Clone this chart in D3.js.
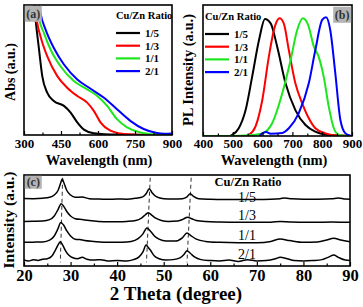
<!DOCTYPE html>
<html>
<head>
<meta charset="utf-8">
<script src="https://cdn.jsdelivr.net/npm/d3@7"></script>
<style>
  body { margin: 0; background: #fff; }
  svg { display: block; }
  svg text { font-family: "Liberation Serif", "Times New Roman", serif; }
</style>
</head>
<body>
<div id="chart"></div>
<script>
// ratio legend labels and colours
const ratios = ["1/5", "1/3", "1/1", "2/1"];
const colors = ["#000000", "#ff0000", "#1ee61e", "#0000ff"];

// (a) absorption, [wavelength nm, abs a.u.]
const absBlack = [[336,1.1],[347,0.886],[361,0.656],[374,0.453],[394,0.326],[421,0.262],[462,0.224],[489,0.173],[516,0.097],[543,0.041],[583,0.013],[677,0.003],[900,0.0]];
const absRed = [[340,1.1],[354,0.86],[367,0.758],[394,0.606],[435,0.453],[475,0.364],[516,0.3],[556,0.249],[583,0.186],[610,0.097],[650,0.033],[704,0.008],[812,0.0],[900,0.0]];
const absGreen = [[348,1.1],[361,0.898],[381,0.784],[408,0.656],[448,0.529],[502,0.415],[556,0.351],[597,0.3],[637,0.224],[677,0.122],[718,0.059],[772,0.02],[853,0.003],[900,0.006]];
const absBlue = [[354,1.1],[367,0.936],[388,0.809],[421,0.669],[462,0.542],[516,0.427],[570,0.356],[623,0.288],[677,0.198],[731,0.109],[785,0.046],[839,0.015],[870,0.01],[900,0.012]];

// (b) photoluminescence, [wavelength nm, PL a.u.]
const plBlack = [[400,0],[490,0],[498,0.008],[520,0.059],[543,0.198],[565,0.453],[588,0.733],[608,0.893],[627,0.86],[649,0.682],[677,0.402],[710,0.198],[744,0.084],[777,0.033],[822,0.008],[900,0]];
const plRed = [[400,0],[545,0],[554,0.008],[576,0.071],[599,0.275],[621,0.606],[641,0.835],[657,0.898],[671,0.86],[688,0.656],[710,0.402],[733,0.249],[755,0.135],[777,0.059],[811,0.02],[855,0.003],[900,0]];
const plGreen = [[400,0],[498,0],[554,0.005],[599,0.02],[632,0.097],[666,0.326],[694,0.58],[716,0.809],[735,0.898],[753,0.847],[772,0.682],[788,0.606],[805,0.453],[822,0.224],[839,0.059],[855,0.01],[878,0],[900,0]];
const plBlue = [[590,0],[599,0.02],[612,0.031],[627,0.018],[666,0.023],[688,0.059],[721,0.173],[755,0.402],[777,0.656],[800,0.886],[813,0.906],[827,0.809],[844,0.478],[861,0.122],[878,0.02],[894,0.003],[900,0]];

// (c) XRD, [2 theta deg, intensity offset a.u.]
const xrd15 = [[20,74.1],[22,74],[24,74.5],[25.5,75.5],[26.5,78],[27.3,83],[27.8,90],[28.2,95.5],[28.6,91],[29.2,83],[30,78],[31,75.5],[32.5,75.8],[34,74],[36,73.5],[38,73.3],[40,73.6],[42,73.4],[44,74.5],[45.5,76],[46.3,80],[46.9,85],[47.5,80.5],[48.5,76],[50,74],[52,73.5],[54,74],[55,76],[55.7,79.5],[56.4,76.5],[57.5,74],[60,73.3],[63,73],[66,73.2],[70,73],[73,73.3],[75,74],[76,74.8],[77.5,73.8],[80,73.3],[83,73.4],[86,73.8],[87.5,74.8],[89,73.5],[90,73.3]];
const xrd13 = [[20,49],[22,49.2],[24,49.5],[25.5,51],[26.5,55],[27.3,62],[28,68.5],[28.6,65],[29.3,59],[30,55],[31,52],[32.5,51],[34,50],[36,49],[38,48.5],[40,48.6],[42,49],[44,50],[45.3,53],[46.1,56.5],[46.7,58.5],[47.4,56],[48.3,52.5],[49.5,50],[51,49],[53,49.5],[54.2,51.5],[55.1,53.7],[56,52],[57,50],[59,48.8],[62,48.3],[66,48],[70,48.2],[73,48.2],[75,48.8],[77,48.4],[80,48],[83,48.1],[86,48.3],[88,48.2],[90,48]];
const xrd11 = [[20,26],[22,26.2],[24,26.5],[25.5,28.5],[26.5,33],[27.3,41],[27.9,47.8],[28.5,45],[29.2,38.5],[30,33],[31,29.5],[32,29],[33,28],[35,27],[38,26],[41,26.2],[43,27],[44.5,30],[45.5,35],[46.4,41.8],[47.2,38],[48,33],[49,29.5],[50.5,27.5],[52.5,27.5],[54,31],[55,36.2],[55.8,33.5],[57,29.5],[59,27],[62,26],[66,25.5],[70,25.6],[73,27],[75,29.6],[77,28],[80,26],[83,26.5],[85,28.5],[86.5,30.4],[88,28.5],[90,26.5]];
const xrd21 = [[20,6.5],[21,5.5],[22,7],[23,6],[24,7.5],[25,8],[26,11],[26.8,18],[27.4,24],[27.8,26.7],[28.3,23],[28.9,17],[29.6,12],[30.5,9],[31.5,8],[32.5,9.5],[33.5,7.5],[35,6.5],[36.5,7],[38,5.5],[40,6],[42,5.5],[43.5,7],[44.7,10],[45.6,16],[46.2,23],[46.6,21],[47.2,17],[48,11],[49,8],[50.5,6.5],[52,7],[53.5,9],[54.4,13],[55,16.7],[55.7,14],[56.6,10],[58,7],[60,6],[62,5.5],[64,6.5],[66,5],[68,7],[70,5.5],[72,6],[74,8],[75,9.5],[76.5,8],[78,6],[80,5.5],[82,6],[84,7],[85.5,10],[86.5,12],[87.5,9.5],[89,6.5],[90,6]];

// dashed guide lines, [top 2theta, bottom 2theta]
const guides = [[28.3, 27.8], [47.1, 46.3], [55.9, 55.0]];
const xrdLabelY = [75, 55, 33, 13];

const svg = d3.select("#chart").append("svg").attr("width", 363).attr("height", 307);
const serif = '"Liberation Serif", "Times New Roman", serif';

function frame(p, xTicks, xMinor, fs, pad) {
  const g = svg.append("g");
  const ax = d3.axisBottom(p.x).tickValues(xTicks).tickSize(-4).tickPadding(pad).tickFormat(d3.format("d"));
  g.append("g").attr("transform", `translate(0,${p.y.range()[0]})`).call(ax)
    .attr("font-family", serif)
    .call(s => s.select(".domain").remove())
    .call(s => s.selectAll("text").attr("font-size", fs).attr("font-weight", "bold").attr("fill", "#000")
      .style("font-family", serif))
    .call(s => s.selectAll("line").attr("stroke-width", 1.2));
  g.append("g").attr("transform", `translate(0,${p.y.range()[0]})`)
    .call(d3.axisBottom(p.x).tickValues(xMinor).tickSize(-2.5).tickFormat(""))
    .call(s => s.select(".domain").remove())
    .call(s => s.selectAll("line").attr("stroke-width", 1.2));
  const [x0, x1] = p.x.range(), [y1, y0] = p.y.range();
  g.append("rect").attr("x", x0).attr("y", y0).attr("width", x1 - x0).attr("height", y1 - y0)
    .attr("fill", "none").attr("stroke", "#000").attr("stroke-width", 1.6);
  return g;
}

function clip(id, p) {
  const [x0, x1] = p.x.range(), [y1, y0] = p.y.range();
  svg.append("clipPath").attr("id", id).append("rect")
    .attr("x", x0).attr("y", y0).attr("width", x1 - x0).attr("height", y1 - y0);
}

function tag(x, y, w, h, txt) {
  svg.append("rect").attr("x", x).attr("y", y).attr("width", w).attr("height", h).attr("fill", "#b4b4b4");
  svg.append("text").attr("x", x + w / 2).attr("y", y + h / 2 + 4).attr("text-anchor", "middle")
    .attr("font-size", 12).attr("font-weight", "bold").attr("fill", "#333").text(txt);
}

function legend(x, y, title) {
  svg.append("text").attr("x", x).attr("y", y).attr("font-size", 10.5).attr("font-weight", "bold").text(title);
  ratios.forEach((r, i) => {
    const yy = y + 14 + i * 12.7;
    svg.append("line").attr("x1", x).attr("x2", x + 24).attr("y1", yy).attr("y2", yy)
      .attr("stroke", colors[i]).attr("stroke-width", 2.2);
    svg.append("text").attr("x", x + 29).attr("y", yy + 4).attr("font-size", 11).attr("font-weight", "bold").text(r);
  });
}

function ylab(x, y, txt, fs) {
  svg.append("text").attr("transform", `translate(${x},${y}) rotate(-90)`).attr("text-anchor", "middle")
    .attr("font-size", fs).attr("font-weight", "bold").text(txt);
}

// ---- panel (a)
const pa = { x: d3.scaleLinear().domain([300, 900]).range([24, 172]), y: d3.scaleLinear().domain([0, 1]).range([135, 5]) };
clip("ca", pa);
const lineA = d3.line().x(d => pa.x(d[0])).y(d => pa.y(d[1])).curve(d3.curveMonotoneX);
[absBlack, absRed, absGreen, absBlue].forEach((s, i) => {
  svg.append("path").datum(s).attr("d", lineA).attr("fill", "none").attr("stroke", colors[i])
    .attr("stroke-width", 2).attr("clip-path", "url(#ca)");
});
frame(pa, [300, 450, 600, 750, 900], [375, 525, 675, 825], 13, 4);
tag(24.8, 5.8, 17, 16, "(a)");
legend(116, 19, "Cu/Zn Ratio");
ylab(15, 72, "Abs (a.u.)", 14);
svg.append("text").attr("x", 99).attr("y", 165).attr("text-anchor", "middle").attr("font-size", 14.5)
  .attr("font-weight", "bold").text("Wavelength (nm)");

// ---- panel (b)
const pb = { x: d3.scaleLinear().domain([400, 900]).range([203, 352]), y: d3.scaleLinear().domain([0, 1]).range([136, 5]) };
clip("cb", pb);
const lineB = d3.line().x(d => pb.x(d[0])).y(d => pb.y(d[1])).curve(d3.curveMonotoneX);
[plBlack, plRed, plGreen, plBlue].forEach((s, i) => {
  svg.append("path").datum(s).attr("d", lineB).attr("fill", "none").attr("stroke", colors[i])
    .attr("stroke-width", 2).attr("clip-path", "url(#cb)");
});
frame(pb, [400, 500, 600, 700, 800, 900], [450, 550, 650, 750, 850], 13, 3);
tag(333.2, 6.8, 18, 16, "(b)");
legend(205, 20, "Cu/Zn Ratio");
ylab(193, 70, "PL Intensity (a.u.)", 14.5);
svg.append("text").attr("x", 274).attr("y", 165).attr("text-anchor", "middle").attr("font-size", 14.5)
  .attr("font-weight", "bold").text("Wavelength (nm)");

// ---- panel (c)
const pc = { x: d3.scaleLinear().domain([20, 90]).range([24, 350]), y: d3.scaleLinear().domain([0, 100]).range([266, 175]) };
clip("cc", pc);
guides.forEach(g => {
  svg.append("line").attr("x1", pc.x(g[0])).attr("x2", pc.x(g[1])).attr("y1", pc.y(97)).attr("y2", pc.y(4))
    .attr("stroke", "#333").attr("stroke-width", 1).attr("stroke-dasharray", "4,3");
});
const lineC = d3.line().x(d => pc.x(d[0])).y(d => pc.y(d[1])).curve(d3.curveMonotoneX);
[xrd15, xrd13, xrd11, xrd21].forEach(s => {
  svg.append("path").datum(s).attr("d", lineC).attr("fill", "none").attr("stroke", "#000")
    .attr("stroke-width", 1.5).attr("clip-path", "url(#cc)");
});
frame(pc, [20, 30, 40, 50, 60, 70, 80, 90], [25, 35, 45, 55, 65, 75, 85], 16.5, 3);
tag(24.8, 175.8, 17, 13, "(c)");
svg.append("text").attr("x", 248).attr("y", 186).attr("text-anchor", "middle").attr("font-size", 12.5)
  .attr("font-weight", "bold").text("Cu/Zn Ratio");
ratios.forEach((r, i) => {
  svg.append("text").attr("x", 247).attr("y", pc.y(xrdLabelY[i]) + 4.5).attr("text-anchor", "middle")
    .attr("font-size", 14).text(r);
});
ylab(14, 220, "Intensity (a.u.)", 15.5);
svg.append("text").attr("x", 176).attr("y", 300).attr("text-anchor", "middle").attr("font-size", 19)
  .attr("font-weight", "bold").text("2 Theta (degree)");
</script>
</body>
</html>
